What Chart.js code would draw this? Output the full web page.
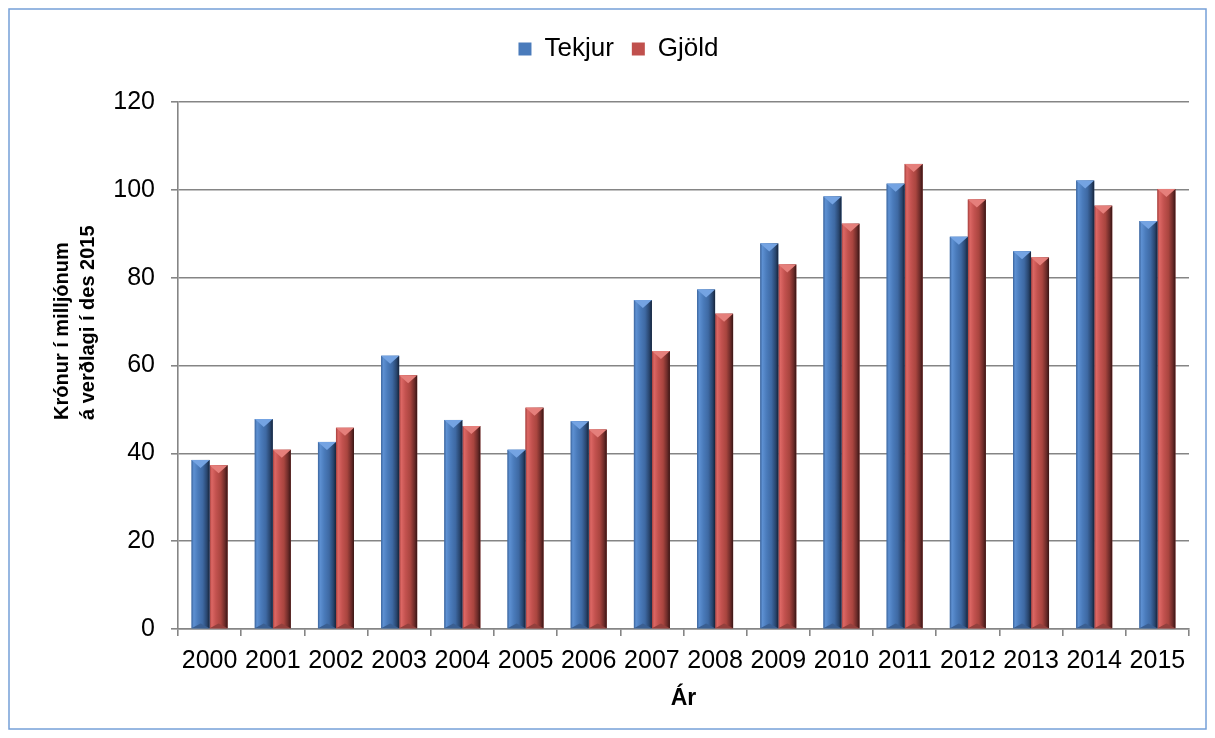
<!DOCTYPE html>
<html>
<head>
<meta charset="utf-8">
<script src="https://cdn.jsdelivr.net/npm/chart.js@4.4.1/dist/chart.umd.min.js"></script>
<style>
  html, body { margin: 0; padding: 0; background: #fff; }
  #wrap { width: 1215px; height: 738px; position: relative; }
</style>
</head>
<body>
<div id="wrap"><canvas id="chart"></canvas></div>
<script>
// Data
const years = ['2000', '2001', '2002', '2003', '2004', '2005', '2006', '2007',
               '2008', '2009', '2010', '2011', '2012', '2013', '2014', '2015'];
const tekjur = [38.5, 47.8, 42.6, 62.2, 47.6, 40.8, 47.3, 74.9,
                77.3, 87.8, 98.5, 101.4, 89.3, 86.0, 102.1, 92.9];
const gjold = [37.3, 40.8, 45.8, 57.8, 46.2, 50.4, 45.4, 63.3,
               71.8, 83.0, 92.3, 105.9, 97.8, 84.6, 96.4, 100.2];
const yTicks = [0, 20, 40, 60, 80, 100, 120];
const yTitle = ['Krónur í milljónum', 'á verðlagi í des 2015'];

const FONT = '"Liberation Sans", Arial, sans-serif';
const GRID = '#858585';

// bevel look of the Excel bars
const bevel = [
    {
        stops: [[0, '#3b649c'], [0.12, '#5d90d2'], [0.35, '#4a7bbb'], [0.62, '#3e69a3'], [0.85, '#29466f'], [1, '#16243a']],
        top: '#74a3e2', bottom: '#3a5f92'
    },
    {
        stops: [[0, '#a43f3c'], [0.12, '#dc6764'], [0.35, '#c3524f'], [0.62, '#a9453f'], [0.85, '#6c2b29'], [1, '#381514']],
        top: '#e57f7b', bottom: '#93403d'
    }
];

const framePlugin = {
    id: 'frame',
    beforeInit(chart) {
        // leave more room under the legend and nudge it right, as in the original
        const legend = chart.legend;
        if (!legend) return;
        const fit = legend.fit;
        legend.fit = function() {
            fit.call(this);
            this.height += 30;
        };
        const draw = legend.draw;
        legend.draw = function() {
            const c = this.ctx;
            c.save();
            c.translate(14, 0);
            draw.call(this);
            c.restore();
        };
    },
    beforeDraw(chart) {
        const ctx = chart.ctx;
        ctx.save();
        ctx.fillStyle = '#fff';
        ctx.fillRect(0, 0, chart.width, chart.height);
        ctx.strokeStyle = '#76a0d8';
        ctx.lineWidth = 1.5;
        ctx.strokeRect(9, 9, chart.width - 18, chart.height - 18);
        ctx.restore();
    },
    afterDraw(chart) {
        // two-line y axis title, start aligned like the original
        const ctx = chart.ctx;
        ctx.save();
        ctx.fillStyle = '#000';
        ctx.font = 'bold 20px ' + FONT;
        ctx.textBaseline = 'middle';
        ctx.textAlign = 'left';
        ctx.translate(0, 420);
        ctx.rotate(-Math.PI / 2);
        ctx.fillText(yTitle[0], 0, 62);
        ctx.fillText(yTitle[1], 0, 88);
        ctx.restore();
    }
};

const bevelPlugin = {
    id: 'bevel',
    afterDatasetDraw(chart, args) {
        const ctx = chart.ctx;
        const st = bevel[args.index];
        ctx.save();
        args.meta.data.forEach(bar => {
            const { x, y, base, width } = bar.getProps(['x', 'y', 'base', 'width'], true);
            const l = x - width / 2, r = x + width / 2;
            const g = ctx.createLinearGradient(l, 0, r, 0);
            st.stops.forEach(s => g.addColorStop(s[0], s[1]));
            ctx.fillStyle = g;
            ctx.fillRect(l, y, width, base - y);
            const d = Math.min(8, (base - y) / 2);
            ctx.fillStyle = st.top;
            ctx.beginPath();
            ctx.moveTo(l, y);
            ctx.lineTo(r, y);
            ctx.lineTo(x, y + d);
            ctx.closePath();
            ctx.fill();
            ctx.fillStyle = st.bottom;
            ctx.beginPath();
            ctx.moveTo(l, base);
            ctx.lineTo(r, base);
            ctx.lineTo(x, base - d * 0.6);
            ctx.closePath();
            ctx.fill();
        });
        ctx.restore();
    }
};

const ctx = document.getElementById('chart').getContext('2d');
new Chart(ctx, {
    type: 'bar',
    data: {
        labels: years,
        datasets: [
            { label: 'Tekjur', data: tekjur, backgroundColor: '#4a7bbb', borderWidth: 0 },
            { label: 'Gjöld', data: gjold, backgroundColor: '#c0504d', borderWidth: 0 }
        ]
    },
    options: {
        responsive: true,
        maintainAspectRatio: false,
        devicePixelRatio: 1,
        animation: false,
        layout: {
            padding: { left: 20, right: 26, top: 18, bottom: 19 }
        },
        datasets: {
            bar: { categoryPercentage: 0.57, barPercentage: 1.0 }
        },
        plugins: {
            legend: {
                position: 'top',
                labels: {
                    color: '#000',
                    font: { family: FONT, size: 26 },
                    boxWidth: 13,
                    boxHeight: 13,
                    padding: 18
                }
            },
            tooltip: { enabled: false }
        },
        scales: {
            x: {
                afterFit(scale) { scale.height = 90; },
                grid: {
                    offset: true,
                    drawOnChartArea: false,
                    color: GRID,
                    lineWidth: 1.6,
                    tickLength: 7
                },
                border: { color: GRID, width: 1.6 },
                ticks: {
                    color: '#000',
                    font: { family: FONT, size: 25 },
                    padding: 10,
                    maxRotation: 0,
                    autoSkip: false
                },
                title: {
                    display: true,
                    text: 'Ár',
                    color: '#000',
                    font: { family: FONT, size: 23, weight: 'bold' },
                    padding: { top: 0, bottom: 7 }
                }
            },
            y: {
                min: 0,
                max: 120,
                afterFit(scale) { scale.width = 158; },
                afterBuildTicks(scale) {
                    scale.ticks = yTicks.map(v => ({ value: v }));
                },
                grid: {
                    color: GRID,
                    lineWidth: 1.6,
                    tickLength: 7
                },
                border: { color: GRID, width: 1.6 },
                ticks: {
                    color: '#000',
                    font: { family: FONT, size: 25 },
                    padding: 16
                }
            }
        }
    },
    plugins: [framePlugin, bevelPlugin]
});
</script>
</body>
</html>
